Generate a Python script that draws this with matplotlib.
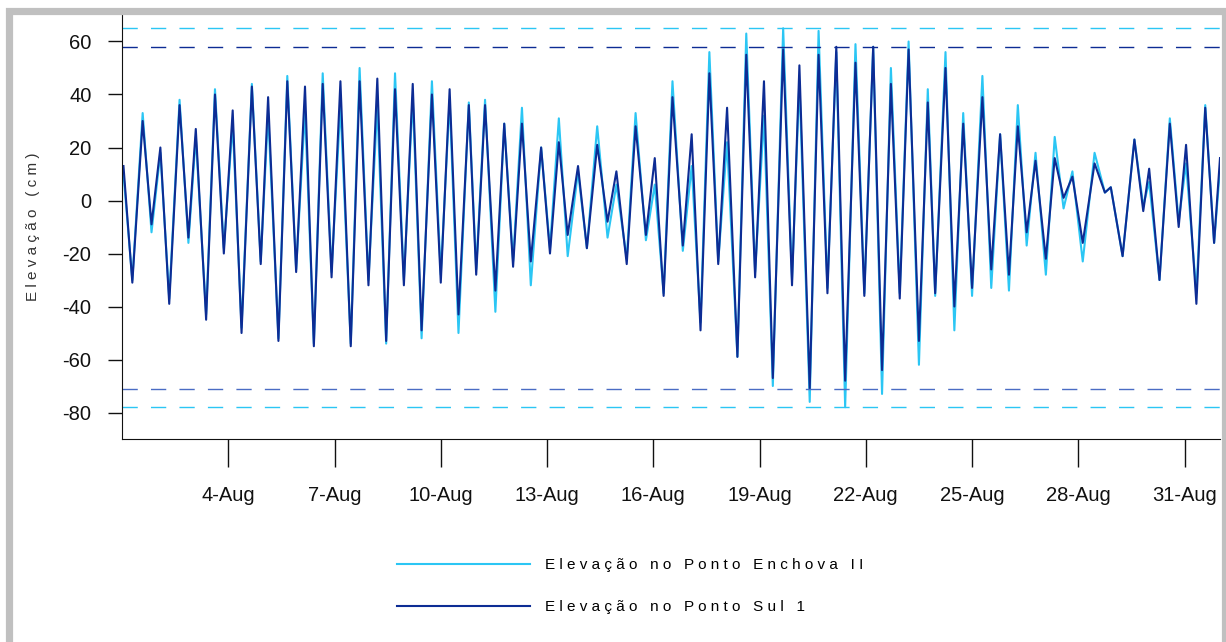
import numpy as np
import pandas as pd
import matplotlib
matplotlib.use("Agg")
import matplotlib.pyplot as plt
import matplotlib.dates as mdates
from matplotlib.patches import Rectangle
from matplotlib.ticker import FuncFormatter

# Extremos de maré (horas desde 1-Aug 00:00)
horas = [1, 7, 14, 20, 26, 32, 39, 45, 50, 57, 63, 69, 75, 81, 88, 94, 99, 106, 112, 118,
         124, 130, 136, 142, 148, 155, 161, 167, 173, 179, 185, 191, 197, 203, 210, 216, 222, 228, 235, 240,
         246, 253, 259, 265, 271, 277, 284, 290, 296, 302, 309, 315, 322, 329, 335, 342, 348, 355, 361, 367,
         373, 380, 386, 392, 398, 404, 410, 417, 423, 429, 435, 441, 448, 454, 459, 466, 472, 478, 484, 490,
         497, 503, 509, 515, 521, 527, 533, 540, 546, 551, 558, 564, 570, 576, 583, 589, 595, 601, 607, 613,
         619, 626, 632, 638, 644, 651, 659, 666, 670, 678, 686, 692, 696, 703, 710, 716, 721, 728, 734, 740,
         744]

# Elevação no Ponto Enchova II (cm)
enchova = [10, -30, 33, -12, 18, -37, 38, -16, 24, -43, 42, -18, 29, -48, 44, -23, 33, -52, 47, -26,
           34, -54, 48, -27, 36, -54, 50, -30, 36, -54, 48, -30, 39, -52, 45, -28, 38, -50, 37, -26,
           38, -42, 29, -23, 35, -32, 20, -18, 31, -21, 11, -18, 28, -14, 6, -22, 33, -15, 6, -35,
           45, -19, 13, -46, 56, -23, 22, -59, 63, -27, 32, -70, 65, -30, 45, -76, 64, -33, 56, -78,
           59, -35, 58, -73, 50, -35, 60, -62, 42, -36, 56, -49, 33, -36, 47, -33, 25, -34, 36, -17,
           18, -28, 24, -3, 11, -23, 18, 3, 5, -21, 23, -2, 7, -30, 31, -8, 14, -35, 36, -16,
           12]

# Elevação no Ponto Sul 1 (cm)
sul = [13, -31, 30, -9, 20, -39, 36, -14, 27, -45, 40, -20, 34, -50, 43, -24, 39, -53, 45, -27,
       43, -55, 44, -29, 45, -55, 45, -32, 46, -53, 42, -32, 44, -49, 40, -31, 42, -43, 36, -28,
       36, -34, 29, -25, 29, -23, 20, -20, 22, -13, 13, -18, 21, -8, 11, -24, 28, -13, 16, -36,
       39, -17, 25, -49, 48, -24, 35, -59, 55, -29, 45, -67, 57, -32, 51, -71, 55, -35, 58, -68,
       52, -36, 58, -64, 44, -37, 57, -53, 37, -35, 50, -40, 29, -33, 39, -26, 25, -28, 28, -12,
       15, -22, 16, 1, 9, -16, 14, 3, 5, -21, 23, -4, 12, -30, 29, -10, 21, -39, 35, -16,
       16]

# Linhas de referência (tracejadas)
niveis_enchova = [65, -78]
niveis_sul = [58, -71]

cor_enchova = "#2BC6F4"
cor_sul = "#0D2C94"

plt.rcParams["font.family"] = ["Liberation Sans", "DejaVu Sans"]


def espacar(s, sep=" "):
    return sep.join(s)


inicio = pd.Timestamp("2000-08-01")
tempo = inicio + pd.to_timedelta(horas, unit="h")

fig = plt.figure(figsize=(12.26, 6.42), dpi=100)
ax = fig.add_axes([122 / 1226, 1 - 439 / 642, (1220 - 122) / 1226, (439 - 15) / 642])

ax.plot(tempo, enchova, color=cor_enchova, lw=1.5, solid_joinstyle="round",
        label=espacar("Elevação no Ponto Enchova II"))
ax.plot(tempo, sul, color=cor_sul, lw=1.5, solid_joinstyle="round",
        label=espacar("Elevação no Ponto Sul 1"))

for v in niveis_enchova:
    ax.axhline(v, color=cor_enchova, lw=1.0, dashes=(11, 9.5))
ax.axhline(niveis_sul[0], color=cor_sul, lw=1.0, dashes=(11, 9.5))
ax.axhline(niveis_sul[1], color="#4A6CC4", lw=1.0, dashes=(11, 9.5))

ax.set_xlim(inicio, pd.Timestamp("2000-09-01"))
ax.set_ylim(-90, 70)
ax.set_yticks(np.arange(-80, 61, 20))
ax.yaxis.set_major_formatter(FuncFormatter(lambda v, p: f"{v:.0f}"))
ax.xaxis.set_major_locator(mdates.DayLocator(bymonthday=range(4, 32, 3)))
ax.xaxis.set_major_formatter(FuncFormatter(
    lambda v, p: f"{mdates.num2date(v).day}-{mdates.num2date(v):%b}"))

ax.tick_params(axis="y", length=10, width=1, pad=12, labelsize=14.5, colors="#111111")
ax.tick_params(axis="x", length=20, width=1, pad=14, labelsize=14.5, colors="#111111")

for s in ["top", "right"]:
    ax.spines[s].set_visible(False)
for s in ["left", "bottom"]:
    ax.spines[s].set_color("#111111")

ax.set_ylabel(espacar("Elevação (cm)"), fontsize=11, color="#333333")
ax.yaxis.set_label_coords(-0.075, 0.5)

ax.legend(loc="upper left", bbox_to_anchor=(397 / 1226, 1 - 558 / 642), bbox_transform=fig.transFigure,
          frameon=False, fontsize=11, handlelength=8.7, handletextpad=1.0, labelspacing=1.84,
          borderpad=0, borderaxespad=0)

# moldura cinza em volta da figura
fig.patches.append(Rectangle((8.5 / 1226, -0.1), (1224.5 - 8.5) / 1226, 1.1 - 10.5 / 642,
                             fill=False, edgecolor="#C0C0C0", lw=5.2, transform=fig.transFigure))

fig.savefig("out.png", dpi=100)
